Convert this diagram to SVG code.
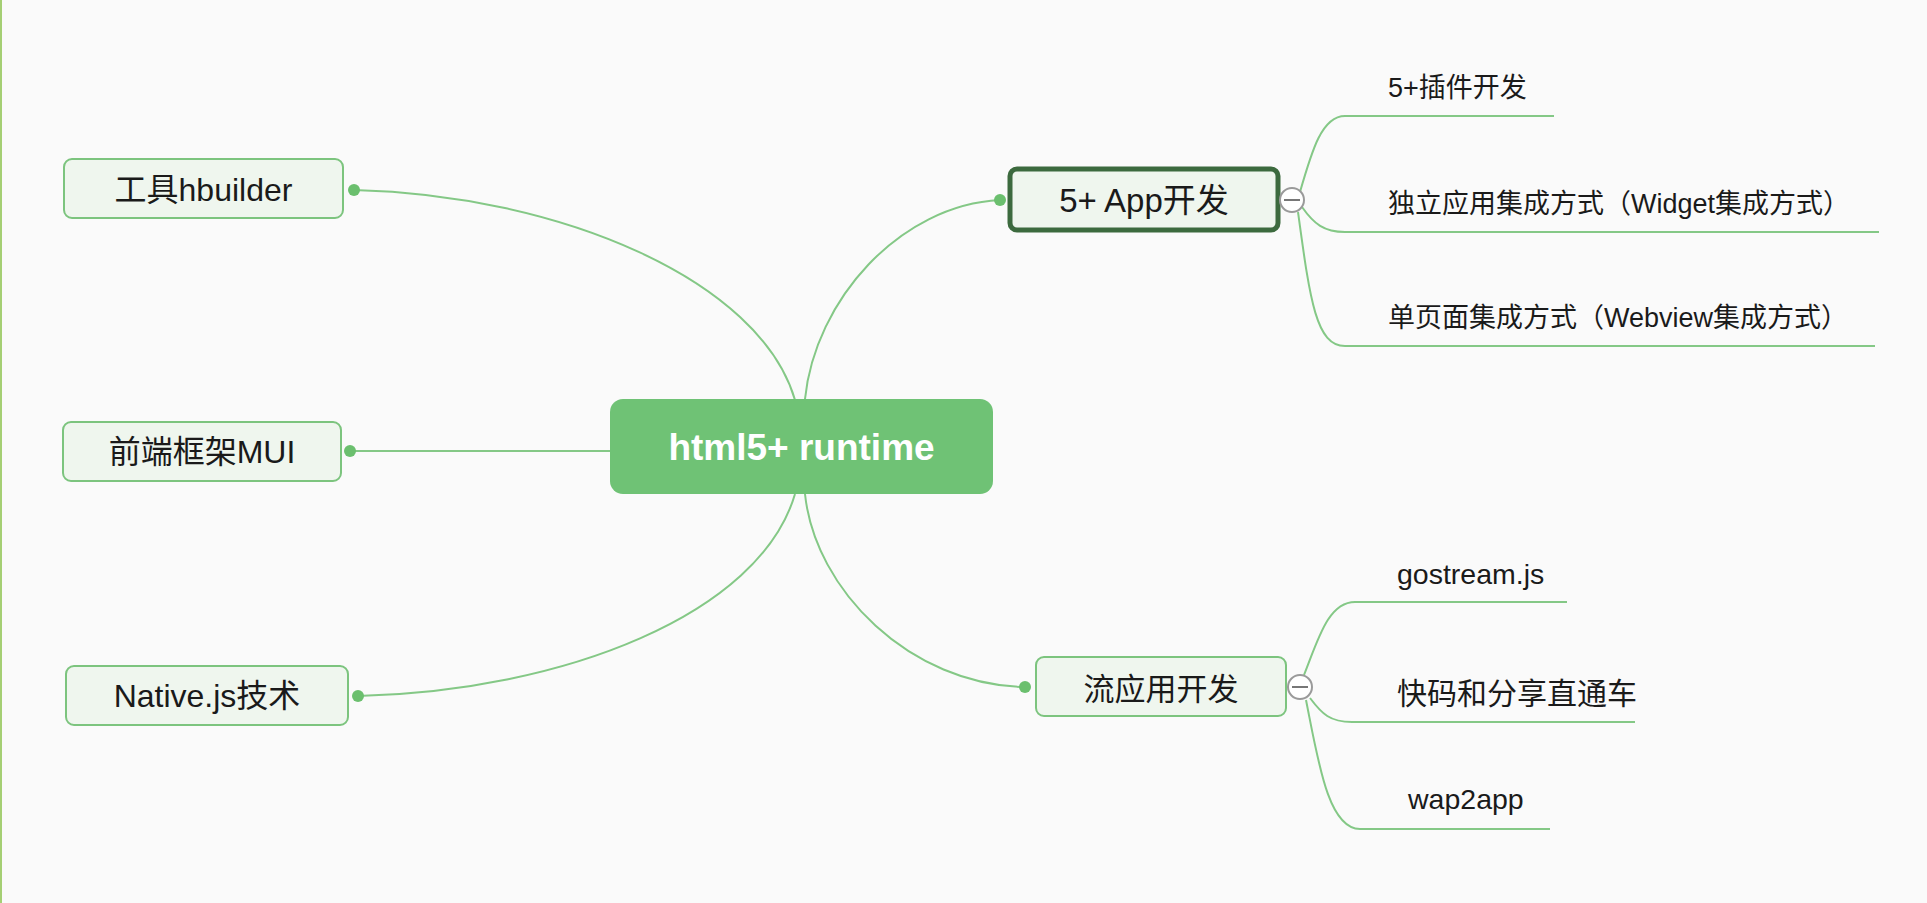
<svg xmlns="http://www.w3.org/2000/svg" width="1927" height="903" viewBox="0 0 1927 903">
<style>
.bg{fill:#fafafa}
.node{fill:#eff6ee;stroke:#7cc47e;stroke-width:2}
.sel{fill:#eff6ee;stroke:#3c6a3e;stroke-width:5}
.root{fill:#6fc275}
.t{font-family:"Liberation Sans","Noto Sans CJK SC",sans-serif;fill:#1a1a1a}
.nt{font-size:32px;text-anchor:middle}
.st{font-size:27px}
.lt{font-size:28.5px}
.rt{font-size:37px;font-weight:bold;fill:#ffffff;text-anchor:middle}
.conn path,.conn line{fill:none;stroke:#84c886;stroke-width:2}
.dot{fill:#6bbf6e}
.col{fill:#ffffff;stroke:#9a9a9a;stroke-width:2}
.minus{stroke:#777;stroke-width:2}
</style>
<rect class="bg" x="0" y="0" width="1927" height="903"/>
<rect x="0" y="0" width="2" height="903" fill="#a5cf74"/>

<g id="connectors" class="conn">
  <path d="M354,190 C560,195 760,280 795,400"/>
  <line x1="350" y1="451" x2="610" y2="451"/>
  <path d="M358,696 C564,691 760,614 795,494"/>
  <path d="M805,399 C815,300 900,205 1000,200"/>
  <path d="M805,494 C815,590 910,685 1025,687"/>
  <path d="M1300,192 C1312,150 1322,116 1345,116 L1554,116"/>
  <path d="M1302,207 C1314,224 1324,232 1345,232 L1879,232"/>
  <path d="M1298,212 C1310,300 1316,346 1345,346 L1875,346"/>
  <path d="M1304,675 C1318,640 1328,602 1355,602 L1567,602"/>
  <path d="M1310,698 C1322,714 1330,722 1352,722 L1635,722"/>
  <path d="M1306,700 C1318,760 1328,829 1360,829 L1550,829"/>
</g>

<g id="root">
  <rect class="root" x="610" y="399" width="383" height="95" rx="13"/>
  <text class="t rt" x="801.5" y="460">html5+ runtime</text>
</g>

<g id="n-hbuilder">
  <rect class="node" x="64" y="159" width="279" height="59" rx="8"/>
  <circle class="dot" cx="354" cy="190" r="6"/>
  <text class="t nt" x="203.5" y="201">工具hbuilder</text>
</g>

<g id="n-mui">
  <rect class="node" x="63" y="422" width="278" height="59" rx="8"/>
  <circle class="dot" cx="350" cy="451" r="6"/>
  <text class="t nt" x="202" y="463">前端框架MUI</text>
</g>

<g id="n-native">
  <rect class="node" x="66" y="666" width="282" height="59" rx="8"/>
  <circle class="dot" cx="358" cy="696" r="6"/>
  <text class="t nt" x="207" y="707">Native.js技术</text>
</g>

<g id="n-app">
  <rect class="sel" x="1010" y="169" width="268" height="61" rx="7"/>
  <circle class="dot" cx="1000" cy="200" r="6"/>
  <text class="t nt" x="1144" y="212" style="font-size:33px">5+ App开发</text>
  <circle class="col" cx="1292" cy="200" r="12"/>
  <line class="minus" x1="1284" y1="200" x2="1300" y2="200"/>
</g>

<g id="n-stream">
  <rect class="node" x="1036" y="657" width="250" height="59" rx="8"/>
  <circle class="dot" cx="1025" cy="687" r="6"/>
  <text class="t nt" x="1161" y="700" style="font-size:31px">流应用开发</text>
  <circle class="col" cx="1300" cy="687" r="12"/>
  <line class="minus" x1="1292" y1="687" x2="1308" y2="687"/>
</g>

<g id="n-plugin"><text class="t st" x="1388" y="97">5+插件开发</text></g>
<g id="n-widget"><text class="t st" x="1388" y="213">独立应用集成方式（Widget集成方式）</text></g>
<g id="n-webview"><text class="t st" x="1388" y="327">单页面集成方式（Webview集成方式）</text></g>
<g id="n-gostream"><text class="t lt" x="1397" y="584">gostream.js</text></g>
<g id="n-kuaima"><text class="t lt" x="1397" y="704" style="font-size:30px">快码和分享直通车</text></g>
<g id="n-wap2app"><text class="t lt" x="1408" y="809">wap2app</text></g>
</svg>
